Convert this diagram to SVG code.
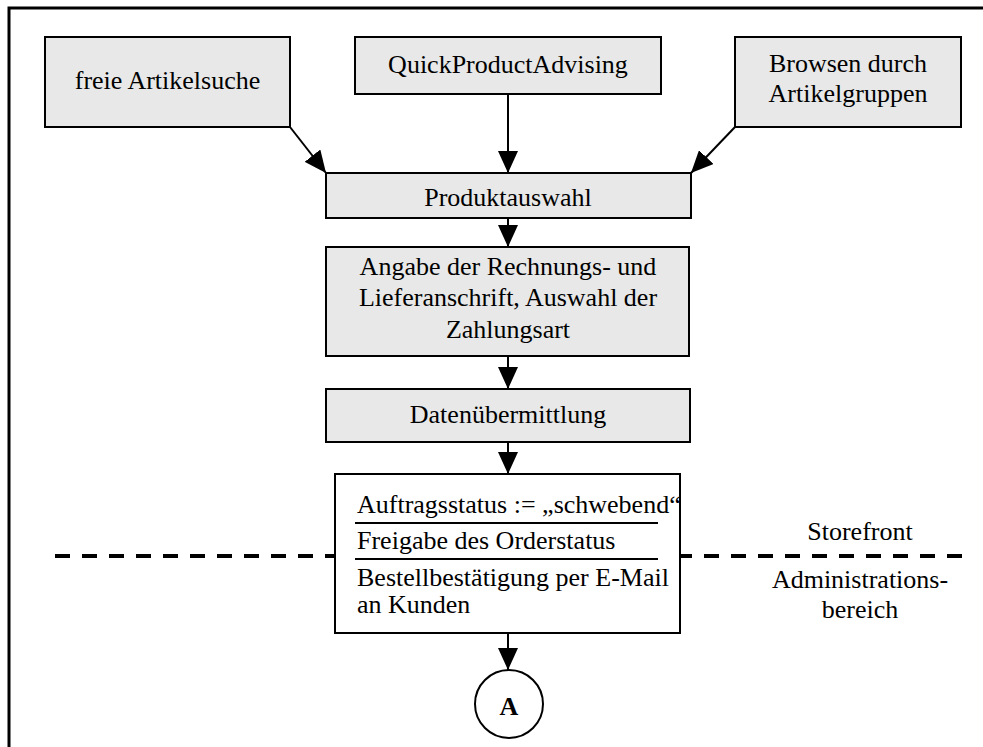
<svg xmlns="http://www.w3.org/2000/svg" width="983" height="747" viewBox="0 0 983 747">
  <style>
    .box { fill: #e8e8e8; stroke: #000; stroke-width: 2; }
    .plain { fill: #fff; stroke: #000; stroke-width: 2; }
    .t { font-family: "Liberation Serif", "Times New Roman", serif; font-size: 26px; fill: #000; }
    .c { text-anchor: middle; }
    .edge { stroke: #000; stroke-width: 2; fill: none; marker-end: url(#arrow); }
    .sep { stroke: #000; stroke-width: 2; }
  </style>
  <defs>
    <marker id="arrow" markerUnits="userSpaceOnUse" markerWidth="22" markerHeight="20" refX="22" refY="10" orient="auto">
      <path d="M0,0 L22,10 L0,20 z" fill="#000"/>
    </marker>
  </defs>

  <rect width="983" height="747" fill="#fff"/>
  <!-- frame -->
  <path d="M9,747 V8 H983" fill="none" stroke="#000" stroke-width="3"/>

  <!-- lane separator -->
  <g id="lane">
    <line x1="55" y1="556" x2="335" y2="556" stroke="#000" stroke-width="4" stroke-dasharray="15 12"/>
    <line x1="680" y1="556" x2="962" y2="556" stroke="#000" stroke-width="4" stroke-dasharray="15 12" stroke-dashoffset="3"/>
    <text class="t c" x="860" y="540">Storefront</text>
    <text class="t c" x="860" y="588">Administrations-</text>
    <text class="t c" x="860" y="618">bereich</text>
  </g>

  <g id="connectors">
    <line class="edge" x1="290" y1="127" x2="326" y2="173"/>
    <line class="edge" x1="508" y1="94" x2="508" y2="173"/>
    <line class="edge" x1="735" y1="127" x2="691" y2="173"/>
    <line class="edge" x1="508" y1="218" x2="508" y2="247"/>
    <line class="edge" x1="508" y1="356" x2="508" y2="389"/>
    <line class="edge" x1="508" y1="442" x2="508" y2="474"/>
    <line class="edge" x1="508" y1="633" x2="508" y2="670"/>
  </g>

  <g id="freie-suche">
    <rect class="box" x="45" y="37" width="245" height="90"/>
    <text class="t c" x="167.5" y="89">freie Artikelsuche</text>
  </g>

  <g id="quick-advising">
    <rect class="box" x="355" y="37" width="306" height="57"/>
    <text class="t c" x="508" y="73">QuickProductAdvising</text>
  </g>

  <g id="browsen">
    <rect class="box" x="735" y="37" width="226" height="90"/>
    <text class="t c" x="848" y="72">Browsen durch</text>
    <text class="t c" x="848" y="102">Artikelgruppen</text>
  </g>

  <g id="produktauswahl">
    <rect class="box" x="326" y="173" width="365" height="45"/>
    <text class="t c" x="508" y="206">Produktauswahl</text>
  </g>

  <g id="angabe">
    <rect class="box" x="326" y="247" width="363" height="109"/>
    <text class="t c" x="508" y="275">Angabe der Rechnungs- und</text>
    <text class="t c" x="508" y="306">Lieferanschrift, Auswahl der</text>
    <text class="t c" x="508" y="338">Zahlungsart</text>
  </g>

  <g id="datenuebermittlung">
    <rect class="box" x="326" y="389" width="364" height="53"/>
    <text class="t c" x="508" y="423">Datenübermittlung</text>
  </g>

  <g id="auftragsstatus">
    <rect class="plain" x="335" y="474" width="345" height="159"/>
    <text class="t" x="357" y="513">Auftragsstatus := „schwebend“</text>
    <line class="sep" x1="355" y1="523" x2="658" y2="523"/>
    <text class="t" x="357" y="549">Freigabe des Orderstatus</text>
    <line class="sep" x1="355" y1="559" x2="658" y2="559"/>
    <text class="t" x="357" y="586">Bestellbestätigung per E-Mail</text>
    <text class="t" x="357" y="613">an Kunden</text>
  </g>

  <g id="connector-a">
    <circle cx="509" cy="704" r="34" fill="#fff" stroke="#000" stroke-width="2"/>
    <text class="t c" x="509" y="715" font-weight="bold">A</text>
  </g>
</svg>
